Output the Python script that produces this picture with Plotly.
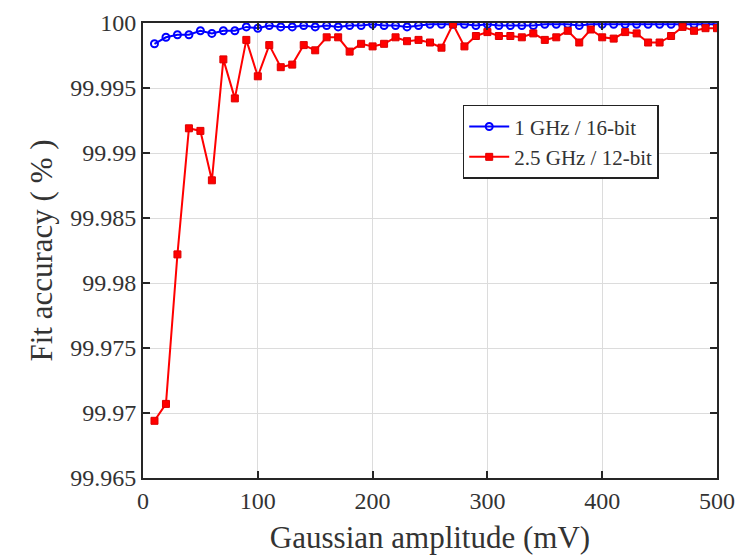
import plotly.graph_objects as go

amplitude_mv = list(range(10, 501, 10))

acc_1ghz_16bit = [
    99.9984, 99.9989, 99.9991, 99.9991, 99.9994, 99.9992, 99.9994, 99.9994, 99.9997, 99.9996,
    99.9998, 99.9997, 99.9997, 99.9998, 99.9997, 99.9998, 99.9997, 99.9998, 99.9998, 99.9999,
    99.9998, 99.9998, 99.9997, 99.9998, 99.9999, 99.9999, 99.9999, 99.9999, 99.9998, 99.9999,
    99.9998, 99.9998, 99.9998, 99.9998, 99.9999, 99.9999, 99.9999, 99.9998, 99.9999, 99.9999,
    99.9999, 99.9999, 99.9999, 99.9999, 99.9999, 99.9999, 99.9999, 99.9999, 99.9999, 99.9999,
]

acc_2_5ghz_12bit = [
    99.9694, 99.9707, 99.9822, 99.9919, 99.9917, 99.9879, 99.9972, 99.9942, 99.9987, 99.9959,
    99.9983, 99.9966, 99.9968, 99.9983, 99.9979, 99.9989, 99.9989, 99.9978, 99.9984, 99.9982,
    99.9984, 99.9989, 99.9986, 99.9987, 99.9985, 99.9981, 99.9999, 99.9982, 99.9990, 99.9993,
    99.9990, 99.9990, 99.9989, 99.9992, 99.9987, 99.9989, 99.9994, 99.9985, 99.9995, 99.9989,
    99.9988, 99.9993, 99.9992, 99.9985, 99.9985, 99.9990, 99.9997, 99.9994, 99.9996, 99.9996,
]

y_tick_vals = [99.965, 99.97, 99.975, 99.98, 99.985, 99.99, 99.995, 100]
y_tick_text = ["99.965", "99.97", "99.975", "99.98", "99.985", "99.99", "99.995", "100"]
x_tick_vals = [0, 100, 200, 300, 400, 500]

font_family = "Liberation Serif"

fig = go.Figure()
fig.add_trace(go.Scatter(
    x=amplitude_mv, y=acc_1ghz_16bit, mode="lines+markers", name="1 GHz / 16-bit",
    line=dict(color="#0000ff", width=2),
    marker=dict(symbol="circle-open", size=7, color="#0000ff", line=dict(width=2)),
))
fig.add_trace(go.Scatter(
    x=amplitude_mv, y=acc_2_5ghz_12bit, mode="lines+markers", name="2.5 GHz / 12-bit",
    line=dict(color="#ff0000", width=2),
    marker=dict(symbol="square", size=7, color="#ff0000", line=dict(width=1, color="#dd0000")),
))

axis_common = dict(
    showline=True, mirror="ticks", linecolor="#262626", linewidth=2,
    ticks="inside", ticklen=7, tickwidth=1.5, tickcolor="#262626",
    showgrid=True, gridcolor="#dcdcdc", gridwidth=1, zeroline=False,
    tickfont=dict(family=font_family, size=24, color="#333333"),
    automargin=False,
)

fig.update_layout(
    width=741, height=556,
    margin=dict(l=143, r=24, t=23, b=78),
    paper_bgcolor="white", plot_bgcolor="white",
    font=dict(family=font_family, color="#333333"),
    xaxis=dict(range=[0, 500], tickvals=x_tick_vals,
               title=dict(text="Gaussian amplitude (mV)", font=dict(family=font_family, size=31), standoff=14),
               **axis_common),
    yaxis=dict(range=[99.965, 100], tickvals=y_tick_vals, ticktext=y_tick_text,
               title=dict(text="Fit accuracy ( % )", font=dict(family=font_family, size=31), standoff=8),
               **axis_common),
    legend=dict(x=0.557, y=0.82, xanchor="left", yanchor="top",
                bordercolor="#222222", borderwidth=1.5, bgcolor="white",
                font=dict(family=font_family, size=21, color="#333333"),
                tracegroupgap=0, itemwidth=40),
    showlegend=True,
)

fig.write_html("out.html")
